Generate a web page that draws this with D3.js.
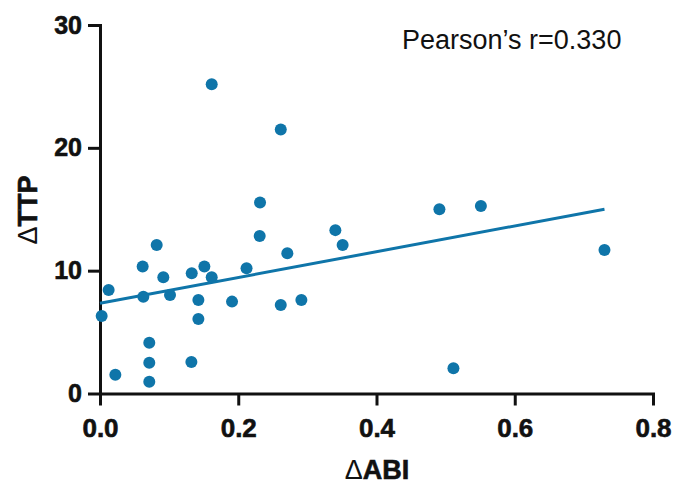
<!DOCTYPE html>
<html>
<head>
<meta charset="utf-8">
<script src="https://cdn.jsdelivr.net/npm/d3@7"></script>
<style>
  html, body { margin: 0; padding: 0; background: #fff; }
  svg { display: block; }
</style>
</head>
<body>
<svg id="chart" width="673" height="486"></svg>
<script>
// ---- data ----
const abi = [0.0024, 0.0125, 0.0222, 0.0617, 0.0627, 0.0713, 0.0713, 0.0713, 0.082, 0.0916,
             0.1013, 0.1327, 0.1322, 0.1423, 0.1423, 0.151, 0.1616, 0.1616, 0.191, 0.212,
             0.2315, 0.231, 0.2615, 0.2615, 0.271, 0.2913, 0.3405, 0.351, 0.491, 0.5113,
             0.551, 0.7298];
const ttp = [6.31, 8.43, 1.53, 10.33, 7.88, 4.14, 2.51, 0.96, 12.09, 9.46,
             8.02, 9.79, 2.57, 7.61, 6.07, 10.33, 9.46, 25.18, 7.48, 10.2,
             15.54, 12.83, 21.5, 7.2, 11.41, 7.61, 13.3, 12.09, 15.0, 2.05,
             15.27, 11.69];
const fitX = [0, 0.7298];
const fitY = [7.35, 15.0];
const xTicks = [0, 0.2, 0.4, 0.6, 0.8];
const yTicks = [0, 10, 20, 30];
const xLabel = "ABI";
const yLabel = "TTP";
const annotation = "Pearson\u2019s r=0.330";

// ---- drawing ----
const svg = d3.select("#chart");
const color = "#0f75a9";
const x = d3.scaleLinear().domain([0, 0.8]).range([100, 653]);
const y = d3.scaleLinear().domain([0, 30]).range([393.5, 25]);

const fontFam = "'Liberation Sans', Arial, Helvetica, sans-serif";

// axes
const gx = svg.append("g").attr("transform", `translate(0,${y(0)})`)
  .call(d3.axisBottom(x).tickValues(xTicks).tickFormat(d3.format(".1f"))
    .tickSize(12).tickSizeOuter(0).tickPadding(13));
const gy = svg.append("g").attr("transform", `translate(${x(0)},0)`)
  .call(d3.axisLeft(y).tickValues(yTicks).tickFormat(d3.format("d"))
    .tickSize(12).tickSizeOuter(0).tickPadding(6));

[gx, gy].forEach(g => {
  g.select(".domain").attr("stroke", "#111").attr("stroke-width", 3).attr("stroke-linecap", "square");
  g.selectAll(".tick line").attr("stroke", "#111").attr("stroke-width", 3);
  g.selectAll(".tick text").attr("fill", "#111")
    .attr("stroke", "#111").attr("stroke-width", 0.6)
    .style("font-family", fontFam).style("font-weight", "bold").style("font-size", "25px");
});
gx.selectAll(".tick text").style("font-size", "26px");

// regression line
const line = d3.line().x(d => x(d[0])).y(d => y(d[1]));
svg.append("path")
  .datum(fitX.map((v, i) => [v, fitY[i]]))
  .attr("d", line)
  .attr("fill", "none")
  .attr("stroke", color)
  .attr("stroke-width", 3);

// points
svg.append("g").selectAll("circle")
  .data(abi.map((v, i) => [v, ttp[i]]))
  .join("circle")
  .attr("cx", d => x(d[0]))
  .attr("cy", d => y(d[1]))
  .attr("r", 6)
  .attr("fill", color);

// axis titles
const xt = svg.append("text")
  .attr("x", 377).attr("y", 479)
  .attr("text-anchor", "middle")
  .style("font-family", fontFam).style("font-size", "27px").style("font-weight", "bold")
  .attr("fill", "#111");
xt.append("tspan").style("font-weight", "normal").text("\u0394");
xt.append("tspan").attr("stroke", "#111").attr("stroke-width", 0.6).text(xLabel);

const yt = svg.append("text")
  .attr("transform", "translate(37,210) rotate(-90)")
  .attr("text-anchor", "middle")
  .style("font-family", fontFam).style("font-size", "27px").style("font-weight", "bold")
  .attr("fill", "#111");
yt.append("tspan").style("font-weight", "normal").text("\u0394");
yt.append("tspan").attr("stroke", "#111").attr("stroke-width", 0.6).text(yLabel);

// annotation
svg.append("text")
  .attr("x", 402).attr("y", 49)
  .style("font-family", fontFam).style("font-size", "27px")
  .attr("fill", "#111")
  .text(annotation);
</script>
</body>
</html>
